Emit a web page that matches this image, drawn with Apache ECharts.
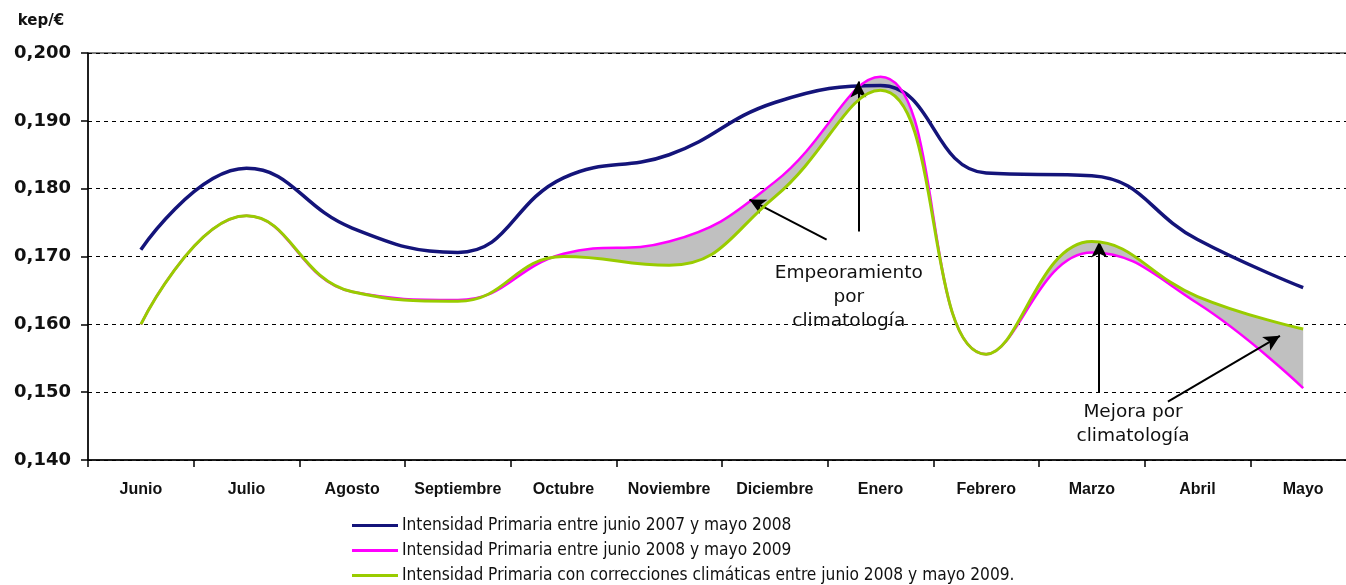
<!DOCTYPE html>
<html>
<head>
<meta charset="utf-8">
<script src="https://cdn.jsdelivr.net/npm/echarts@6/dist/echarts.min.js"></script>
<style>html,body{margin:0;padding:0;background:#fff;}#c{width:1346px;height:585px;}</style>
</head>
<body>
<div id="c"></div>
<script>
const categories = ['Junio','Julio','Agosto','Septiembre','Octubre','Noviembre','Diciembre','Enero','Febrero','Marzo','Abril','Mayo'];
const serie0708 = [0.1710,0.1830,0.1742,0.1706,0.1816,0.1850,0.1927,0.1952,0.1823,0.1819,0.1725,0.1654];
const serie0809 = [0.1600,0.1760,0.1648,0.1636,0.1704,0.1722,0.1810,0.1965,0.1556,0.1706,0.1631,0.1506];
const serieCorr = [0.1600,0.1760,0.1648,0.1634,0.1700,0.1687,0.1788,0.1945,0.1556,0.1722,0.1641,0.1593];
const yTickValues = [0.140,0.150,0.160,0.170,0.180,0.190,0.200];
const yTickLabels = ['0,140','0,150','0,160','0,170','0,180','0,190','0,200'];
const legendNames = ['Intensidad Primaria entre junio 2007 y mayo 2008','Intensidad Primaria entre junio 2008 y mayo 2009','Intensidad Primaria con correcciones climáticas entre junio 2008 y mayo 2009.'];
const annotationTexts = ['Empeoramiento\npor\nclimatología','Mejora por\nclimatología'];
// annotation anchors in data space [category position, value]
const arrows = [
  [[6.49,0.1725],[5.76,0.1784]],
  [[6.79,0.1737],[6.79,0.1958]],
  [[9.07,0.1499],[9.07,0.1722]],
  [[9.72,0.1486],[10.78,0.1583]]
];
const textAnchors = [[6.70,0.1640],[9.39,0.1453]];

const bandBase = serie0809.map((v,i)=>Math.min(v,serieCorr[i]));
const bandDiff = serie0809.map((v,i)=>Math.abs(v-serieCorr[i]));

const chart = echarts.init(document.getElementById('c'));
const SM = 0.45;
const legendTops = [517,542,567];
chart.setOption({
  animation:false,
  backgroundColor:'#fff',
  grid:{left:88,width:1268,top:53,height:407,outerBoundsMode:'none',containLabel:false,show:true,borderColor:'#000',borderWidth:1,backgroundColor:'transparent'},
  legend:legendNames.map((n,i)=>({
    orient:'horizontal',left:352,top:legendTops[i],itemWidth:46,itemHeight:12,padding:0,
    data:[n],
    textStyle:{fontFamily:'DejaVu Sans Condensed',fontSize:17.2,color:'#111',padding:[0,0,0,-1]},
    icon:'path://M0,5 L46,5 L46,8 L0,8 Z'
  })),
  xAxis:[{
    type:'category',data:categories,boundaryGap:true,
    axisLine:{lineStyle:{color:'#000',width:1.5}},
    axisTick:{show:true,length:7,lineStyle:{color:'#000',width:1.5}},
    axisLabel:{interval:0,fontFamily:'Liberation Sans',fontWeight:'bold',fontSize:16,color:'#111',margin:22},
    splitLine:{show:false}
  },{
    type:'value',min:-0.5,max:11.5,show:false,splitLine:{show:false}
  }],
  yAxis:{
    type:'value',min:0.140,max:0.200,interval:0.010,
    name:'kep/€',nameLocation:'end',nameGap:24,
    nameTextStyle:{fontFamily:'DejaVu Sans',fontWeight:'bold',fontSize:15,color:'#111',padding:[0,94,0,0]},
    axisLine:{show:true,onZero:false,lineStyle:{color:'#000',width:1.5}},
    axisTick:{show:true,length:7,inside:false,lineStyle:{color:'#000',width:1.5}},
    axisLabel:{fontFamily:'DejaVu Sans',fontWeight:'bold',fontSize:18,color:'#111',margin:17,
      formatter:function(v){const i=yTickValues.findIndex(t=>Math.abs(t-v)<1e-6);return i>=0?yTickLabels[i]:'';}},
    splitLine:{show:true,lineStyle:{color:'#000',type:[4,4],width:1}}
  },
  series:[
    {name:'base',type:'line',data:bandBase,stack:'band',smooth:SM,symbol:'none',lineStyle:{width:0,opacity:0},silent:true,z:1},
    {name:'band',type:'line',data:bandDiff,stack:'band',smooth:SM,symbol:'none',lineStyle:{width:0,opacity:0},areaStyle:{color:'#c0c0c0',opacity:1},silent:true,z:1},
    {name:legendNames[0],type:'line',data:serie0708,smooth:SM,symbol:'none',lineStyle:{color:'#14147a',width:3.5},itemStyle:{color:'#14147a'},z:3},
    {name:legendNames[1],type:'line',data:serie0809,smooth:SM,symbol:'none',lineStyle:{color:'#ff00ff',width:2.5},itemStyle:{color:'#ff00ff'},z:4},
    {name:legendNames[2],type:'line',data:serieCorr,smooth:SM,symbol:'none',lineStyle:{color:'#99cc00',width:3},itemStyle:{color:'#99cc00'},z:5},
    {name:'anotaciones',type:'line',xAxisIndex:1,data:[],symbol:'none',z:6,silent:true,
      markLine:{silent:true,symbol:['none','arrow'],symbolSize:[12,16],animation:false,
        lineStyle:{color:'#000',width:2,type:'solid'},label:{show:false},
        data:arrows.map(a=>[{coord:a[0]},{coord:a[1]}])},
      markPoint:{silent:true,symbol:'circle',symbolSize:1,itemStyle:{color:'rgba(0,0,0,0)'},animation:false,
        label:{show:true,position:'inside',fontFamily:'DejaVu Sans',fontSize:18.5,color:'#111',lineHeight:24,align:'center',verticalAlign:'middle'},
        data:textAnchors.map((p,i)=>({coord:p,value:0,label:{formatter:annotationTexts[i]}}))}
    }
  ]
});
</script>
</body>
</html>
